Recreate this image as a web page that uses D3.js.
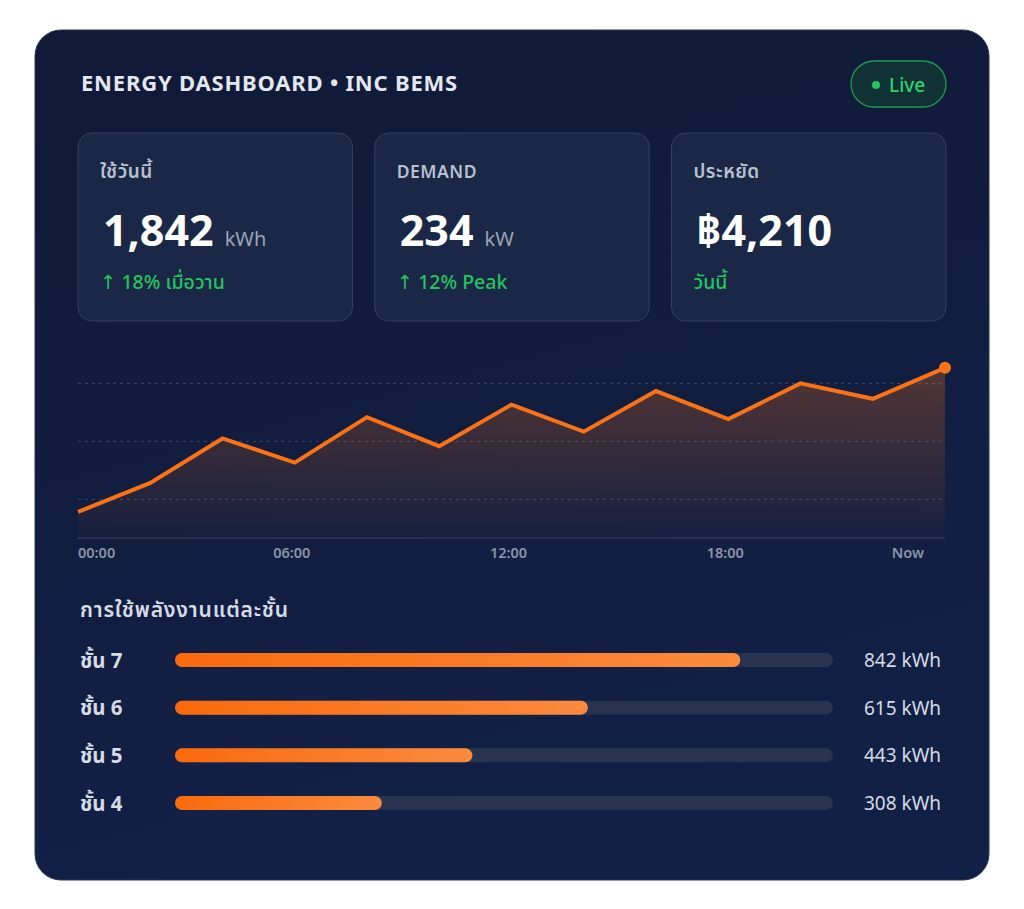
<!DOCTYPE html>
<html>
<head>
<meta charset="utf-8">
<script src="https://cdn.jsdelivr.net/npm/d3@7"></script>
<style>
  body { margin: 0; background: #ffffff; }
  svg { display: block; font-family: "Noto Sans", "Noto Sans Thai", "DejaVu Sans", sans-serif; }
</style>
</head>
<body>
<svg id="chart" width="1024" height="909"></svg>
<script>
// ---- data ----
const kpiLabels = ["ใช้วันนี้", "DEMAND", "ประหยัด"];
const kpiValues = ["1,842", "234", "฿4,210"];
const kpiUnits = ["kWh", "kW", ""];
const kpiNotes = ["↑ 18% เมื่อวาน", "↑ 12% Peak", "วันนี้"];

const loadHours = [0, 2, 4, 6, 8, 10, 12, 14, 16, 18, 20, 22, 24];
const loadKw = [67, 97, 143, 118, 165, 135, 178, 150, 192, 163, 200, 184, 216];
const gridKw = [80, 140, 200];
const tickHours = [0, 6, 12, 18, 24];
const tickLabels = ["00:00", "06:00", "12:00", "18:00", "Now"];

const floors = ["ชั้น 7", "ชั้น 6", "ชั้น 5", "ชั้น 4"];
const floorKwh = [842, 615, 443, 308];

const svg = d3.select("#chart");
const defs = svg.append("defs");

// panel
const pg = defs.append("linearGradient").attr("id", "panelGrad")
  .attr("x1", 0).attr("y1", 0).attr("x2", 0.3).attr("y2", 1);
pg.append("stop").attr("offset", "0%").attr("stop-color", "#101a37");
pg.append("stop").attr("offset", "100%").attr("stop-color", "#132046");

svg.append("rect")
  .attr("x", 35).attr("y", 30).attr("width", 954).attr("height", 850)
  .attr("rx", 26)
  .attr("fill", "url(#panelGrad)")
  .attr("stroke", "#2a3558").attr("stroke-width", 1);

// header
svg.append("text")
  .attr("x", 81).attr("y", 91)
  .attr("fill", "#e3e7ef")
  .attr("font-size", 22).attr("font-weight", 700)
  .attr("letter-spacing", 0.8)
  .text("ENERGY DASHBOARD • INC BEMS");

const live = svg.append("g").attr("transform", "translate(851,61)");
live.append("rect").attr("width", 95).attr("height", 46).attr("rx", 23)
  .attr("fill", "#123a33").attr("fill-opacity", 0.75)
  .attr("stroke", "#1f9a4e").attr("stroke-width", 1.3);
live.append("circle").attr("cx", 25).attr("cy", 24).attr("r", 4).attr("fill", "#22c55e");
live.append("text").attr("x", 38).attr("y", 30.5)
  .attr("fill", "#2fd36b").attr("font-size", 19).attr("font-weight", 500)
  .text("Live");

// KPI cards
const cardX = d3.scaleBand().domain(d3.range(kpiLabels.length)).range([78, 946]).paddingInner(0.075).paddingOuter(0);
const cards = svg.append("g").selectAll("g").data(kpiLabels).join("g")
  .attr("transform", (d, i) => `translate(${cardX(i)},133)`);

cards.append("rect")
  .attr("width", cardX.bandwidth()).attr("height", 188).attr("rx", 14)
  .attr("fill", "#1b2746").attr("stroke", "#34405f").attr("stroke-width", 1);

cards.append("text")
  .attr("x", 22).attr("y", 45)
  .attr("fill", "#b9c0cd").attr("font-size", (d, i) => i === 1 ? 17.5 : 19)
  .attr("font-weight", 600).attr("letter-spacing", 0.5)
  .text(d => d);

const bigText = cards.append("text")
  .attr("x", 25).attr("y", 113)
  .attr("fill", "#ffffff");
bigText.append("tspan")
  .attr("font-size", 43).attr("font-weight", 700)
  .text((d, i) => kpiValues[i]);
bigText.append("tspan")
  .attr("dx", 11)
  .attr("font-size", 20).attr("font-weight", 400).attr("fill", "#9aa3b5")
  .text((d, i) => kpiUnits[i]);

cards.append("text")
  .attr("x", 22).attr("y", 156)
  .attr("fill", "#22c55e").attr("font-size", 19.5).attr("font-weight", 500)
  .text((d, i) => kpiNotes[i]);

// line chart
const x = d3.scaleLinear().domain([0, 24]).range([78, 945]);
const y = d3.scaleLinear().domain([40, 220]).range([538, 364]);

const ag = defs.append("linearGradient").attr("id", "areaGrad")
  .attr("x1", 0).attr("y1", 0).attr("x2", 0).attr("y2", 1);
ag.append("stop").attr("offset", "0%").attr("stop-color", "#f97316").attr("stop-opacity", 0.28);
ag.append("stop").attr("offset", "100%").attr("stop-color", "#f97316").attr("stop-opacity", 0.02);

svg.append("g").selectAll("line").data(gridKw).join("line")
  .attr("x1", x(0)).attr("x2", x(24))
  .attr("y1", d => y(d)).attr("y2", d => y(d))
  .attr("stroke", "#5a6685").attr("stroke-opacity", 0.6)
  .attr("stroke-dasharray", "3,4");

const pts = loadHours.map((h, i) => [h, loadKw[i]]);

svg.append("path").datum(pts)
  .attr("fill", "url(#areaGrad)")
  .attr("d", d3.area().x(d => x(d[0])).y0(y(40)).y1(d => y(d[1])));

svg.append("line")
  .attr("x1", x(0)).attr("x2", x(24)).attr("y1", y(40)).attr("y2", y(40))
  .attr("stroke", "#3b4766").attr("stroke-width", 1);

svg.append("path").datum(pts)
  .attr("fill", "none").attr("stroke", "#f97316").attr("stroke-width", 4)
  .attr("stroke-linejoin", "miter")
  .attr("d", d3.line().x(d => x(d[0])).y(d => y(d[1])));

svg.append("circle")
  .attr("cx", x(loadHours[loadHours.length - 1]))
  .attr("cy", y(loadKw[loadKw.length - 1]))
  .attr("r", 6).attr("fill", "#f97316");

svg.append("g").selectAll("text").data(tickHours).join("text")
  .attr("x", (d, i) => i === 0 ? x(d) : i === tickHours.length - 1 ? x(d) - 21 : x(d) - 3)
  .attr("y", 558)
  .attr("text-anchor", (d, i) => i === 0 ? "start" : i === tickHours.length - 1 ? "end" : "middle")
  .attr("fill", "#8a93a8").attr("font-size", 14.5).attr("font-weight", 600)
  .text((d, i) => tickLabels[i]);

// floor bars
svg.append("text")
  .attr("x", 80).attr("y", 617)
  .attr("fill", "#d6dbe5").attr("font-size", 21).attr("font-weight", 600)
  .attr("letter-spacing", 0.8)
  .text("การใช้พลังงานแต่ละชั้น");

const rowY = d3.scalePoint().domain(floors).range([660, 803]);
const bx = d3.scaleLinear().domain([0, 980]).range([175, 833]);

const bg = defs.append("linearGradient").attr("id", "barGrad")
  .attr("x1", 0).attr("y1", 0).attr("x2", 1).attr("y2", 0);
bg.append("stop").attr("offset", "0%").attr("stop-color", "#f96a0c");
bg.append("stop").attr("offset", "100%").attr("stop-color", "#fb8a3e");

const rows = svg.append("g").selectAll("g").data(floors).join("g")
  .attr("transform", d => `translate(0,${rowY(d)})`);

rows.append("text")
  .attr("x", 80).attr("y", 7.5)
  .attr("fill", "#d6dbe5").attr("font-size", 20.5).attr("font-weight", 700)
  .text(d => d);

rows.append("rect")
  .attr("x", bx(0)).attr("y", -7)
  .attr("width", bx(980) - bx(0)).attr("height", 14).attr("rx", 7)
  .attr("fill", "#28334f");

rows.append("rect")
  .attr("x", bx(0)).attr("y", -7)
  .attr("width", (d, i) => bx(floorKwh[i]) - bx(0)).attr("height", 14).attr("rx", 7)
  .attr("fill", "url(#barGrad)");

rows.append("text")
  .attr("x", 864).attr("y", 7)
  .attr("fill", "#d6dbe5").attr("font-size", 19)
  .text((d, i) => `${floorKwh[i]} kWh`);
</script>
</body>
</html>
